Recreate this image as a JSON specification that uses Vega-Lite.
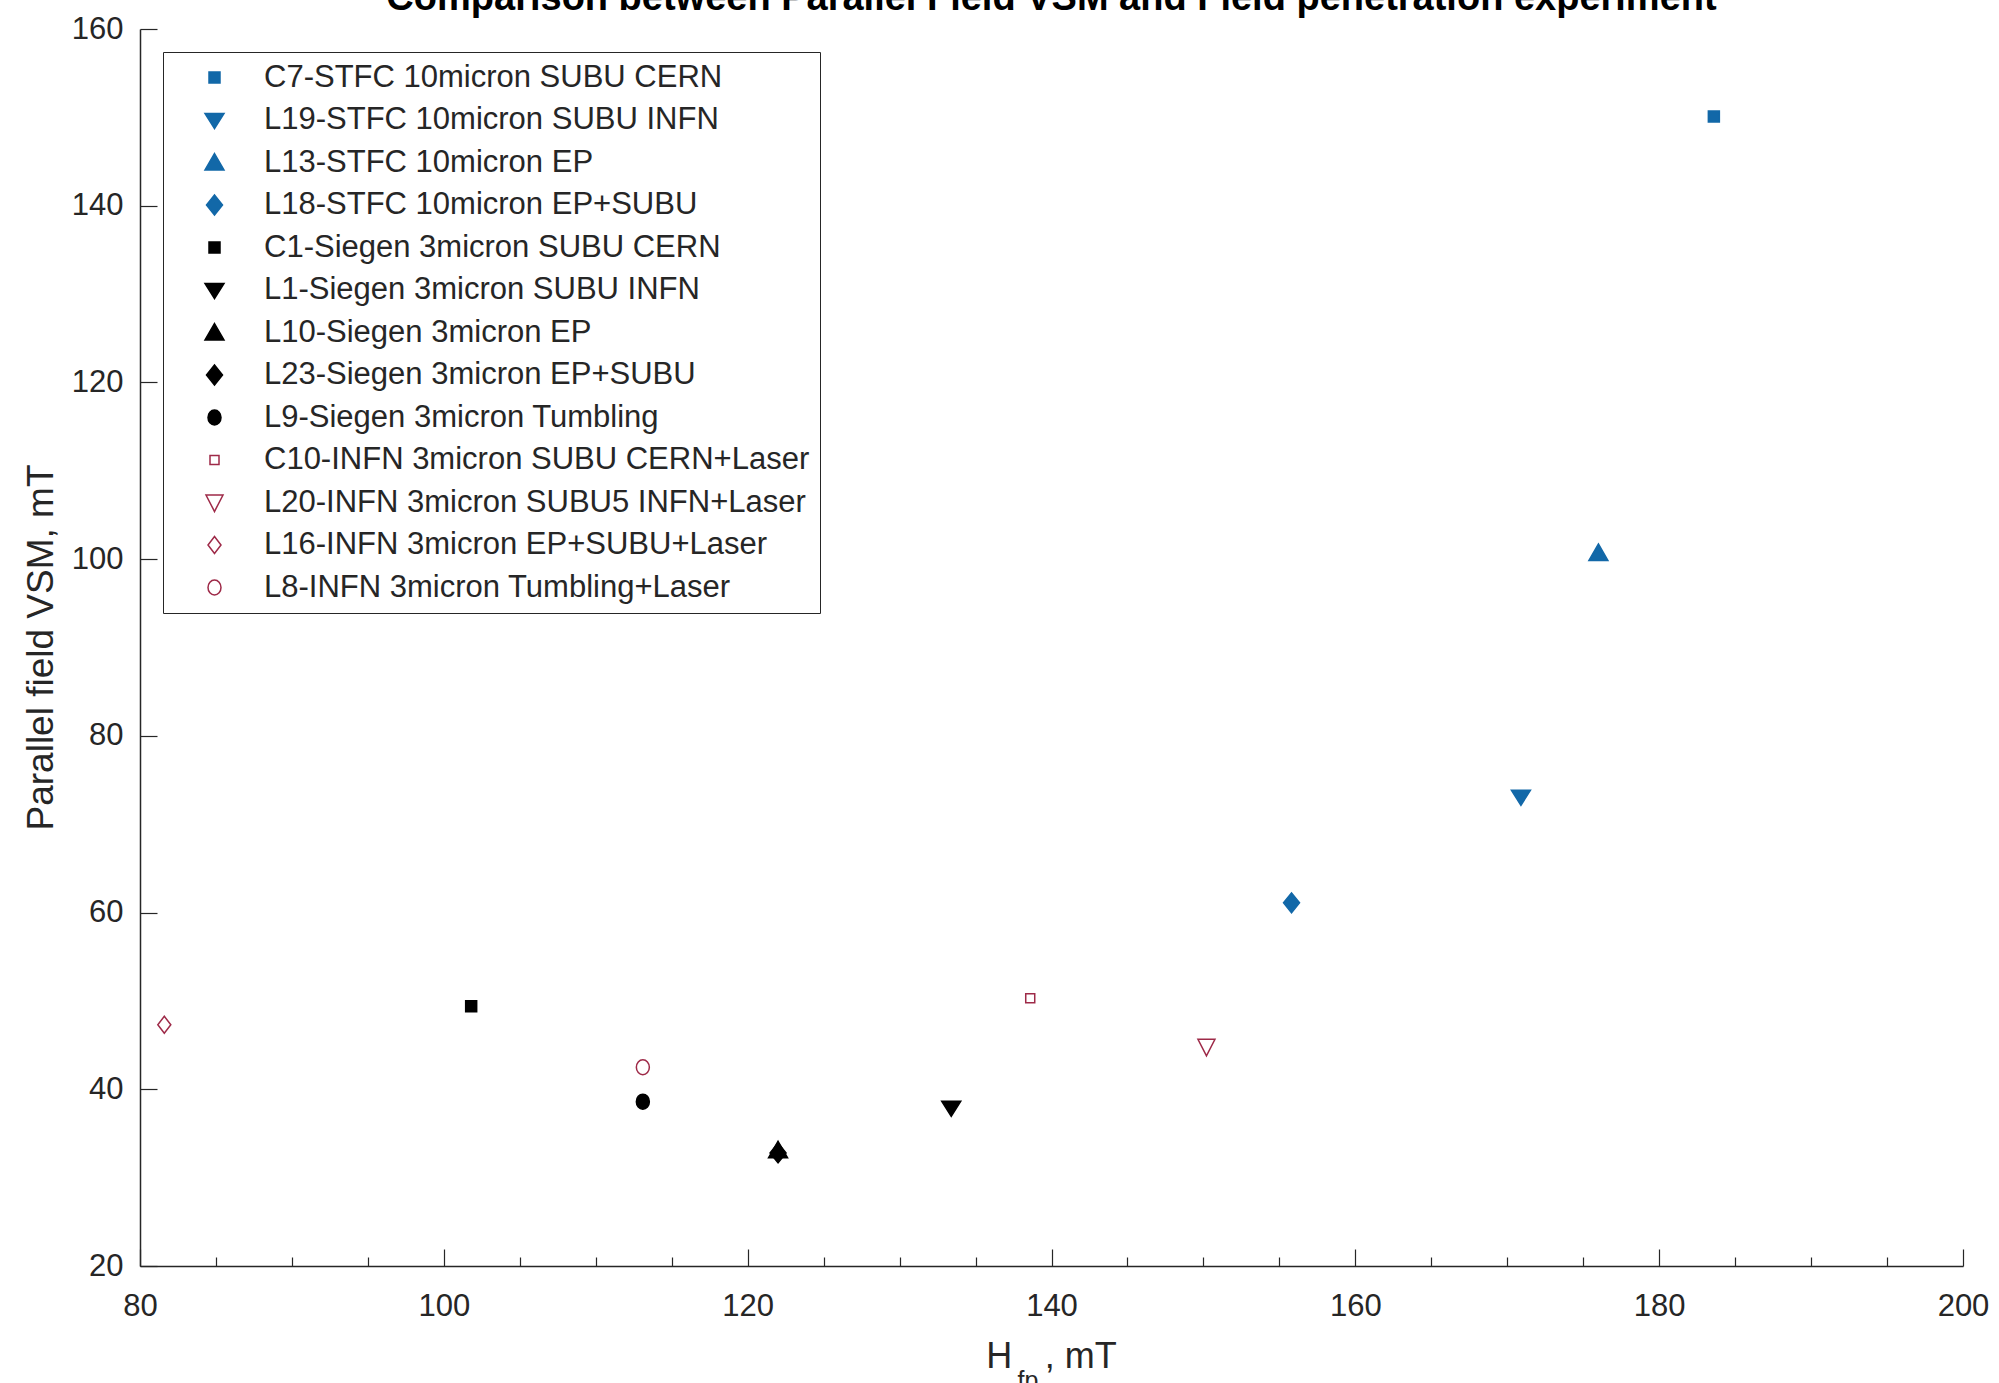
{
  "$schema": "https://vega.github.io/schema/vega-lite/v6.json",
  "autosize": "none",
  "width": 1823,
  "height": 1237,
  "padding": {"left": 140, "top": 29, "right": 36, "bottom": 117},
  "background": "white",
  "config": {
    "view": {"stroke": null},
    "font": "Liberation Sans",
    "axis": {"grid": false, "labelFlush": false, "domainColor": "#262626", "domainWidth": 1.5, "tickColor": "#262626", "tickWidth": 1.2, "labelColor": "#262626", "titleColor": "#262626", "labelFont": "Liberation Sans", "titleFont": "Liberation Sans", "labelFontSize": 31, "titleFontWeight": "normal"}
  },
  "title": {"text": "Comparison between Parallel Field VSM and Field penetration experiment", "font": "Liberation Sans", "fontSize": 38, "fontWeight": "bold", "color": "#000000", "anchor": "middle", "frame": "group", "baseline": "bottom", "offset": -43},
  "data": {"values": [
    {"series": "C7-STFC 10micron SUBU CERN", "hfp": 183.6, "vsm": 150.1},
    {"series": "L19-STFC 10micron SUBU INFN", "hfp": 170.9, "vsm": 73.1},
    {"series": "L13-STFC 10micron EP", "hfp": 176.0, "vsm": 100.7},
    {"series": "L18-STFC 10micron EP+SUBU", "hfp": 155.8, "vsm": 61.1},
    {"series": "C1-Siegen 3micron SUBU CERN", "hfp": 101.8, "vsm": 49.4},
    {"series": "L1-Siegen 3micron SUBU INFN", "hfp": 133.4, "vsm": 37.9},
    {"series": "L10-Siegen 3micron EP", "hfp": 122.0, "vsm": 33.1},
    {"series": "L23-Siegen 3micron EP+SUBU", "hfp": 122.0, "vsm": 32.8},
    {"series": "L9-Siegen 3micron Tumbling", "hfp": 113.1, "vsm": 38.6},
    {"series": "C10-INFN 3micron SUBU CERN+Laser", "hfp": 138.6, "vsm": 50.3},
    {"series": "L20-INFN 3micron SUBU5 INFN+Laser", "hfp": 150.2, "vsm": 44.8},
    {"series": "L16-INFN 3micron EP+SUBU+Laser", "hfp": 81.6, "vsm": 47.3},
    {"series": "L8-INFN 3micron Tumbling+Laser", "hfp": 113.1, "vsm": 42.5}
  ]},
  "layer": [
    {
      "mark": {"type": "point", "opacity": 1, "size": 400, "strokeWidth": 1.5},
      "encoding": {
        "x": {"field": "hfp", "type": "quantitative", "scale": {"domain": [80, 200], "nice": false, "zero": false},
          "axis": {"orient": "bottom", "values": [80, 100, 120, 140, 160, 180, 200], "tickSize": -17, "labelPadding": 42, "title": "H\u2002\u2009\u2009, mT", "titleFontSize": 36, "titleAlign": "center", "titleBaseline": "alphabetic", "titleX": 911, "titleY": 101}},
        "y": {"field": "vsm", "type": "quantitative", "scale": {"domain": [20, 160], "nice": false, "zero": false},
          "axis": {"values": [20, 40, 60, 80, 100, 120, 140, 160], "tickSize": -17, "labelPadding": 34, "title": "Parallel field VSM, mT", "titleFontSize": 37, "titleAlign": "center", "titleBaseline": "alphabetic", "titleAngle": -90, "titleX": -88, "titleY": 618}},
        "shape": {"field": "series", "type": "nominal",
          "scale": {"domain": ["C7-STFC 10micron SUBU CERN", "L19-STFC 10micron SUBU INFN", "L13-STFC 10micron EP", "L18-STFC 10micron EP+SUBU", "C1-Siegen 3micron SUBU CERN", "L1-Siegen 3micron SUBU INFN", "L10-Siegen 3micron EP", "L23-Siegen 3micron EP+SUBU", "L9-Siegen 3micron Tumbling", "C10-INFN 3micron SUBU CERN+Laser", "L20-INFN 3micron SUBU5 INFN+Laser", "L16-INFN 3micron EP+SUBU+Laser", "L8-INFN 3micron Tumbling+Laser"],
            "range": ["M-0.55,-0.55L0.55,-0.55L0.55,0.55L-0.55,0.55Z", "M-0.95,-0.65L0.95,-0.65L0,0.85Z", "M0,-0.9L0.95,0.75L-0.95,0.75Z", "M0,-1L0.8,0L0,1L-0.8,0Z", "M-0.55,-0.55L0.55,-0.55L0.55,0.55L-0.55,0.55Z", "M-0.95,-0.65L0.95,-0.65L0,0.85Z", "M0,-0.9L0.95,0.75L-0.95,0.75Z", "M0,-1L0.8,0L0,1L-0.8,0Z", "M0.65,0A0.65,0.75,0,1,1,-0.65,0A0.65,0.75,0,1,1,0.65,0Z", "M-0.45,-0.45L0.45,-0.45L0.45,0.45L-0.45,0.45Z", "M-0.85,-0.75L0.85,-0.75L0,0.9Z", "M0,-0.85L0.65,0L0,0.85L-0.65,0Z", "M0.65,0A0.65,0.75,0,1,1,-0.65,0A0.65,0.75,0,1,1,0.65,0Z"]},
          "legend": {"title": null, "orient": "none", "legendX": 23, "legendY": 23, "padding": 10, "rowPadding": 10.5, "symbolOffset": 26, "labelOffset": 34, "symbolSize": 400, "symbolStrokeWidth": 1.5, "labelFont": "Liberation Sans", "labelFontSize": 31, "labelColor": "#262626", "labelLimit": 800, "strokeColor": "#262626", "fillColor": "white"}},
        "fill": {"field": "series", "type": "nominal",
          "scale": {"domain": ["C7-STFC 10micron SUBU CERN", "L19-STFC 10micron SUBU INFN", "L13-STFC 10micron EP", "L18-STFC 10micron EP+SUBU", "C1-Siegen 3micron SUBU CERN", "L1-Siegen 3micron SUBU INFN", "L10-Siegen 3micron EP", "L23-Siegen 3micron EP+SUBU", "L9-Siegen 3micron Tumbling", "C10-INFN 3micron SUBU CERN+Laser", "L20-INFN 3micron SUBU5 INFN+Laser", "L16-INFN 3micron EP+SUBU+Laser", "L8-INFN 3micron Tumbling+Laser"],
            "range": ["#1268a8", "#1268a8", "#1268a8", "#1268a8", "#000000", "#000000", "#000000", "#000000", "#000000", "transparent", "transparent", "transparent", "transparent"]},
          "legend": {"title": null, "orient": "none", "legendX": 23, "legendY": 23, "padding": 10, "rowPadding": 10.5, "symbolOffset": 26, "labelOffset": 34, "symbolSize": 400, "symbolStrokeWidth": 1.5, "labelFont": "Liberation Sans", "labelFontSize": 31, "labelColor": "#262626", "labelLimit": 800, "strokeColor": "#262626", "fillColor": "white"}},
        "stroke": {"field": "series", "type": "nominal",
          "scale": {"domain": ["C7-STFC 10micron SUBU CERN", "L19-STFC 10micron SUBU INFN", "L13-STFC 10micron EP", "L18-STFC 10micron EP+SUBU", "C1-Siegen 3micron SUBU CERN", "L1-Siegen 3micron SUBU INFN", "L10-Siegen 3micron EP", "L23-Siegen 3micron EP+SUBU", "L9-Siegen 3micron Tumbling", "C10-INFN 3micron SUBU CERN+Laser", "L20-INFN 3micron SUBU5 INFN+Laser", "L16-INFN 3micron EP+SUBU+Laser", "L8-INFN 3micron Tumbling+Laser"],
            "range": ["#1268a8", "#1268a8", "#1268a8", "#1268a8", "#000000", "#000000", "#000000", "#000000", "#000000", "#9e2a48", "#9e2a48", "#9e2a48", "#9e2a48"]},
          "legend": {"title": null, "orient": "none", "legendX": 23, "legendY": 23, "padding": 10, "rowPadding": 10.5, "symbolOffset": 26, "labelOffset": 34, "symbolSize": 400, "symbolStrokeWidth": 1.5, "labelFont": "Liberation Sans", "labelFontSize": 31, "labelColor": "#262626", "labelLimit": 800, "strokeColor": "#262626", "fillColor": "white"}}
      }
    },
    {
      "mark": {"type": "point", "opacity": 0},
      "encoding": {
        "x": {"field": "hfp", "type": "quantitative", "scale": {"domain": [80, 200], "nice": false, "zero": false},
          "axis": {"orient": "bottom", "values": [85, 90, 95, 105, 110, 115, 125, 130, 135, 145, 150, 155, 165, 170, 175, 185, 190, 195], "tickSize": -9, "labels": false, "domain": false, "title": "fp", "titleFontSize": 25, "titleAlign": "left", "titleBaseline": "alphabetic", "titleX": 877, "titleY": 122}}
      }
    }
  ],
  "resolve": {"axis": {"x": "independent"}}
}
